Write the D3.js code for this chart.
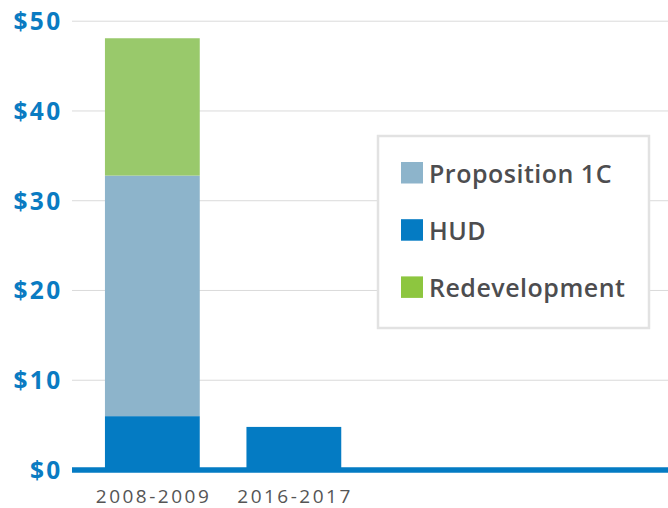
<!DOCTYPE html>
<html>
<head>
<meta charset="utf-8">
<script src="https://cdn.jsdelivr.net/npm/d3@7"></script>
<style>
  body { margin: 0; background: #fff; }
  svg { display: block; }
</style>
</head>
<body>
<script>
const periods = ['2008-2009', '2016-2017'];
const hud = [6.0, 4.8];
const proposition1C = [26.8, 0];
const redevelopment = [15.3, 0];
const yTicks = [0, 10, 20, 30, 40, 50];
const seriesNames = ['HUD', 'Proposition 1C', 'Redevelopment'];
const legendOrder = ['Proposition 1C', 'HUD', 'Redevelopment'];

const colors = {
    'HUD': '#047bc3',
    'Proposition 1C': '#8db4cb',
    'Redevelopment': '#99c96b'
};
const legendColors = {
    'HUD': '#047bc3',
    'Proposition 1C': '#8db4cb',
    'Redevelopment': '#8dc63f'
};

let rows = periods.map((p, i) => ({
    period: p,
    'HUD': hud[i],
    'Proposition 1C': proposition1C[i],
    'Redevelopment': redevelopment[i]
}));

let width = 668, height = 508;

let svg = d3.select('body').append('svg')
    .attr('width', width)
    .attr('height', height);

let x = d3.scaleBand()
    .domain(periods)
    .range([81.6, 364.6])
    .paddingInner(0.33)
    .paddingOuter(0.165);

let y = d3.scaleLinear()
    .domain([0, 50])
    .range([470, 21.2]);

// gridlines
svg.append('g')
    .selectAll('line')
    .data(yTicks.slice(1))
    .enter()
    .append('line')
    .attr('x1', 72)
    .attr('x2', width)
    .attr('y1', (d) => y(d))
    .attr('y2', (d) => y(d))
    .attr('stroke', '#dadada')
    .attr('stroke-width', 1);

// y labels
svg.append('g')
    .selectAll('text')
    .data(yTicks)
    .enter()
    .append('text')
    .attr('x', 62.5)
    .attr('y', (d) => y(d))
    .attr('dy', '0.36em')
    .attr('text-anchor', 'end')
    .style('font-family', 'Open Sans')
    .style('font-weight', 700)
    .style('font-size', '24.5px')
    .style('letter-spacing', '2.3px')
    .style('fill', '#0a7bc2')
    .text((d) => '$' + d);

let stacked = d3.stack().keys(seriesNames)(rows);

svg.append('g')
    .selectAll('g')
    .data(stacked)
    .enter()
    .append('g')
    .attr('fill', (s) => colors[s.key])
    .selectAll('rect')
    .data((s) => s.filter((d) => d[1] - d[0] > 0))
    .enter()
    .append('rect')
    .attr('x', (d) => x(d.data.period))
    .attr('width', x.bandwidth())
    .attr('y', (d) => y(d[1]))
    .attr('height', (d) => y(d[0]) - y(d[1]));

// baseline
svg.append('line')
    .attr('x1', 72)
    .attr('x2', width)
    .attr('y1', y(0))
    .attr('y2', y(0))
    .attr('stroke', '#047bc3')
    .attr('stroke-width', 5.5);

// x labels
svg.append('g')
    .selectAll('text')
    .data(periods)
    .enter()
    .append('text')
    .attr('x', (d) => x(d) + x.bandwidth() / 2 + 1.2)
    .attr('y', 503)
    .attr('text-anchor', 'middle')
    .style('font-family', 'Open Sans')
    .style('font-size', '19px')
    .style('letter-spacing', '2.5px')
    .style('fill', '#555')
    .text((d) => d);

// legend
let legend = svg.append('g');
legend.append('rect')
    .attr('x', 378)
    .attr('y', 136)
    .attr('width', 271)
    .attr('height', 192)
    .attr('fill', '#fff')
    .attr('stroke', '#e2e2e2')
    .attr('stroke-width', 2.5);

let item = legend.selectAll('.item')
    .data(legendOrder)
    .enter()
    .append('g')
    .attr('class', 'item')
    .attr('transform', (d, i) => 'translate(401,' + (162 + i * 57.2) + ')');

item.append('rect')
    .attr('width', 22)
    .attr('height', 21.5)
    .attr('fill', (d) => legendColors[d]);

item.append('text')
    .attr('x', 28)
    .attr('y', 21)
    .style('font-family', 'Open Sans')
    .style('font-weight', 600)
    .style('font-size', '25px')
    .style('letter-spacing', '0.5px')
    .style('fill', '#4d4d4f')
    .text((d) => d);
</script>
</body>
</html>
